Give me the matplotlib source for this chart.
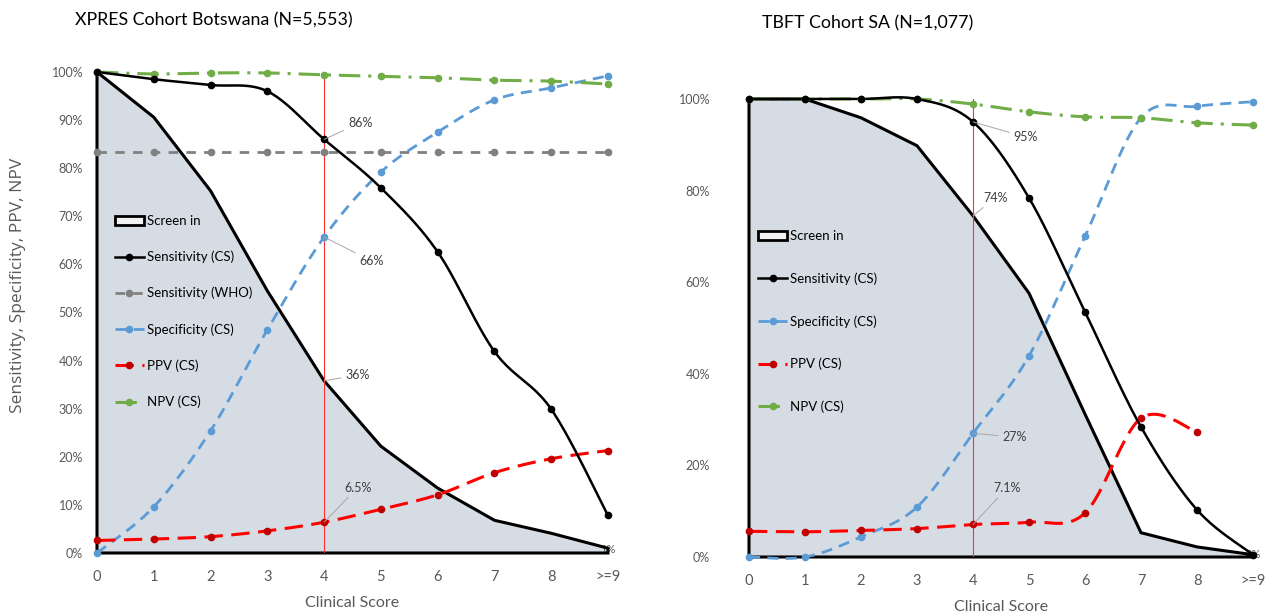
import numpy as np
import matplotlib
matplotlib.use('Agg')
import matplotlib.pyplot as plt
from matplotlib.lines import Line2D
from matplotlib.patches import Patch

plt.rcParams['font.family'] = ['Lato', 'DejaVu Sans']

# ====================== data ======================
scores = [0, 1, 2, 3, 4, 5, 6, 7, 8, 9]
score_labels = ['0', '1', '2', '3', '4', '5', '6', '7', '8', '>=9']

# XPRES cohort Botswana
bw_screen_in = [100, 90.6, 75.3, 54.5, 35.8, 22.2, 13.5, 6.8, 4.1, 1.0]
bw_sens_cs = [100, 98.5, 97.3, 96.0, 86.0, 75.9, 62.6, 41.9, 29.9, 7.8]
bw_sens_who = [83.3, 83.3, 83.3, 83.3, 83.3, 83.3, 83.3, 83.3, 83.3, 83.3]
bw_spec_cs = [0, 9.6, 25.4, 46.4, 65.7, 79.2, 87.5, 94.2, 96.7, 99.2]
bw_ppv_cs = [2.6, 2.9, 3.4, 4.6, 6.4, 9.1, 12.1, 16.7, 19.6, 21.3]
bw_npv_cs = [100, 99.6, 99.8, 99.8, 99.4, 99.1, 98.8, 98.3, 98.1, 97.5]

# TBFT cohort SA
sa_screen_in = [100, 100, 95.9, 89.8, 74.5, 57.6, 31.2, 5.3, 2.2, 0.5]
sa_sens_cs = [100, 100, 100, 100, 95.0, 78.4, 53.5, 28.4, 10.3, 0.5]
sa_spec_cs = [0, 0, 4.4, 10.9, 27.0, 43.9, 70.0, 95.9, 98.4, 99.4]
sa_ppv_cs = [5.6, 5.5, 5.8, 6.2, 7.1, 7.6, 9.6, 30.3, 27.3, np.nan]
sa_npv_cs = [100, 100, 100, 100, 98.9, 97.2, 96.1, 95.9, 94.8, 94.3]

C_SENS = 'black'
C_WHO = '#808080'
C_SPEC = '#5B9BD5'
C_PPV = '#FF0000'
C_PPV_M = '#C00000'
C_NPV = '#70AD47'
C_AREA = '#D6DCE4'
C_TXT = '#595959'
MS = 4.5


def smooth(x, y, n=24):
    # excel style smoothed line (bezier through the points)
    x = np.asarray(x, float)
    y = np.asarray(y, float)
    ok = ~np.isnan(y)
    p = np.column_stack([x[ok], y[ok]])
    out = []
    t = np.linspace(0, 1, n)[:, None]
    for i in range(len(p) - 1):
        p0 = p[i - 1] if i > 0 else p[i]
        p1, p2 = p[i], p[i + 1]
        p3 = p[i + 2] if i + 2 < len(p) else p[i + 1]
        c1 = p1 + (p2 - p0) / 6
        c2 = p2 - (p3 - p1) / 6
        seg = ((1 - t) ** 3) * p1 + 3 * ((1 - t) ** 2) * t * c1 + 3 * (1 - t) * t ** 2 * c2 + t ** 3 * p2
        out.append(seg)
    s = np.vstack(out)
    return s[:, 0], s[:, 1]


def series(ax, y, color, ls, lw, mcolor=None):
    sx, sy = smooth(scores, y)
    ax.plot(sx, sy, color=color, ls=ls, lw=lw, clip_on=False, zorder=4)
    ax.plot(scores, y, ls='none', marker='o', ms=MS, color=mcolor or color,
            clip_on=False, zorder=5)


def setup(ax, yticks, ypad):
    ax.set_xlim(0, 9)
    ax.set_ylim(0, 100)
    for s in ax.spines.values():
        s.set_visible(False)
    ax.set_xticks(scores)
    ax.set_xticklabels(score_labels)
    ax.set_yticks(yticks)
    ax.set_yticklabels(['%d%%' % v for v in yticks])
    ax.tick_params(axis='y', length=0, pad=ypad, labelsize=9, labelcolor=C_TXT)
    ax.tick_params(axis='x', length=0, pad=12, labelsize=10.5, labelcolor=C_TXT)
    ax.set_xlabel('Clinical Score', fontsize=11.5, color=C_TXT, labelpad=9)


def area(ax, y):
    ax.fill_between(scores, y, 0, facecolor=C_AREA, edgecolor='none', zorder=1)
    xs = [0] + scores + [9, 0]
    ys = [0] + list(y) + [0, 0]
    ax.plot(xs, ys, color='black', lw=2.2, zorder=3, clip_on=False,
            solid_joinstyle='miter')
    ax.vlines(4, 0, 100.5, color='#FF3030', lw=0.8, zorder=3)


def note(ax, txt, xy, xytext):
    ax.annotate(txt, xy=xy, xytext=xytext, fontsize=9, color='#404040', va='center',
                ha='left', zorder=6,
                arrowprops=dict(arrowstyle='-', color='#A6A6A6', lw=0.7,
                                shrinkA=1, shrinkB=0))


fig = plt.figure(figsize=(12.74, 6.16), dpi=100)
ax1 = fig.add_axes([97 / 1274, 63 / 616, 511 / 1274, 481 / 616])
ax2 = fig.add_axes([749 / 1274, 59 / 616, 504 / 1274, 458 / 616])

sens_ls = '-'
who_ls = (0, (3.4, 3.0))
spec_ls = (0, (4.0, 2.6))
ppv_ls = (0, (6.0, 2.8))
npv_ls = (0, (7.0, 2.6, 1.0, 2.6))

# ==== left: Botswana ====
setup(ax1, range(0, 101, 10), 10)
area(ax1, bw_screen_in)
series(ax1, bw_sens_who, C_WHO, who_ls, 2.0)
series(ax1, bw_spec_cs, C_SPEC, spec_ls, 2.0)
series(ax1, bw_ppv_cs, C_PPV, ppv_ls, 2.2, C_PPV_M)
series(ax1, bw_npv_cs, C_NPV, npv_ls, 2.2)
series(ax1, bw_sens_cs, C_SENS, sens_ls, 1.8)
note(ax1, '86%', (4, 86), (4.42, 89.4))
note(ax1, '66%', (4, 65.7), (4.62, 60.7))
note(ax1, '36%', (4, 35.8), (4.37, 37.0))
note(ax1, '6.5%', (4, 6.4), (4.35, 13.6))
ax1.text(9.0, 0.8, '1%', fontsize=8, color=C_TXT, va='center', ha='center', zorder=2)

# ==== right: South Africa ====
setup(ax2, range(0, 101, 20), 28)
area(ax2, sa_screen_in)
series(ax2, sa_spec_cs, C_SPEC, spec_ls, 2.0)
series(ax2, sa_ppv_cs, C_PPV, ppv_ls, 2.2, C_PPV_M)
series(ax2, sa_npv_cs, C_NPV, npv_ls, 2.2)
series(ax2, sa_sens_cs, C_SENS, sens_ls, 1.8)
note(ax2, '95%', (4, 95.0), (4.72, 91.7))
note(ax2, '74%', (4, 74.5), (4.18, 78.4))
note(ax2, '27%', (4, 27.0), (4.52, 26.2))
note(ax2, '7.1%', (4, 7.1), (4.36, 15.0))
ax2.text(9.0, 0.5, '0%', fontsize=8, color=C_TXT, va='center', ha='center', zorder=2)

# ==== legends ====
def handles(with_who):
    h = [Patch(facecolor='#F2F2F2', edgecolor='black', lw=2.0, label='Screen in'),
         Line2D([], [], color=C_SENS, lw=1.8, marker='o', ms=MS, label='Sensitivity (CS)')]
    if with_who:
        h.append(Line2D([], [], color=C_WHO, lw=2.0, ls=who_ls, marker='o', ms=MS,
                        label='Sensitivity (WHO)'))
    h += [Line2D([], [], color=C_SPEC, lw=2.0, ls=spec_ls, marker='o', ms=MS,
                 label='Specificity (CS)'),
          Line2D([], [], color=C_PPV, lw=2.2, ls=ppv_ls, marker='o', ms=MS,
                 mfc=C_PPV_M, mec=C_PPV_M, label='PPV (CS)'),
          Line2D([], [], color=C_NPV, lw=2.2, ls=npv_ls, marker='o', ms=MS,
                 label='NPV (CS)')]
    return h


ax1.legend(handles=handles(True), loc='upper left', bbox_to_anchor=(0.035, 0.703),
           frameon=False, fontsize=9.5, labelspacing=1.8, handlelength=2.2,
           handletextpad=0.25, borderpad=0, borderaxespad=0)
ax2.legend(handles=handles(False), loc='upper left', bbox_to_anchor=(0.018, 0.713),
           frameon=False, fontsize=9.5, labelspacing=2.28, handlelength=2.2,
           handletextpad=0.25, borderpad=0, borderaxespad=0)

# ==== titles and y label ====
fig.text(75 / 1274, 1 - 20 / 616, 'XPRES Cohort Botswana (N=5,553)', fontsize=12.8,
         color='black', va='center', ha='left')
fig.text(762 / 1274, 1 - 23 / 616, 'TBFT Cohort SA (N=1,077)', fontsize=12.8,
         color='black', va='center', ha='left')
fig.text(18 / 1274, 1 - 285 / 616, 'Sensitivity, Specificity, PPV, NPV', fontsize=12.5,
         color=C_TXT, rotation=90, va='center', ha='center',
         family=['Open Sans', 'DejaVu Sans'])

fig.savefig('out.png', dpi=100)
